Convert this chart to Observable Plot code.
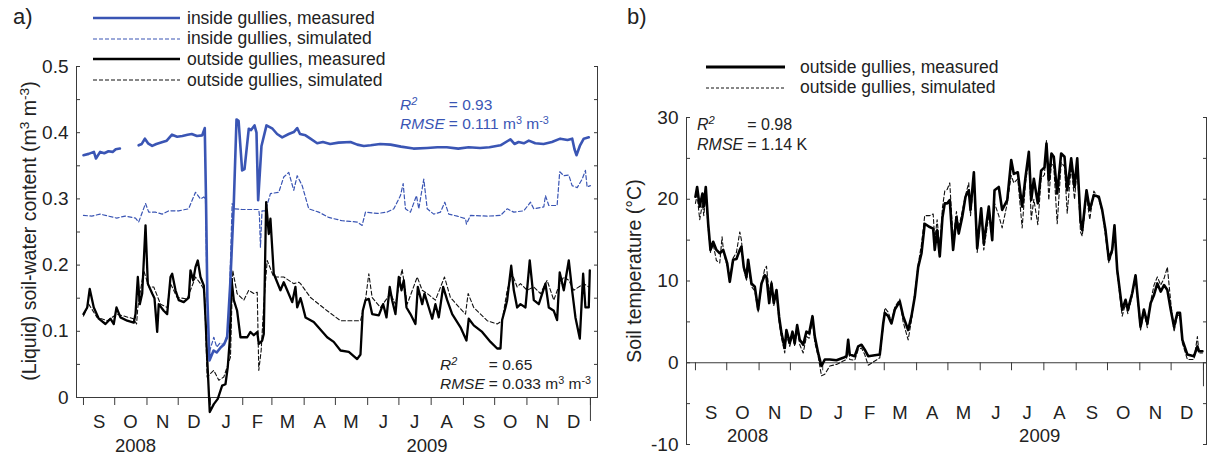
<!DOCTYPE html>
<html><head><meta charset="utf-8">
<script src="https://cdn.jsdelivr.net/npm/d3@7"></script>
<script src="https://cdn.jsdelivr.net/npm/@observablehq/plot@0.6"></script>
<style>
body{margin:0;background:#fff;font-family:"Liberation Sans",Arial,sans-serif;color:#222}
#root{position:relative;width:1208px;height:456px;overflow:hidden;background:#fff}
.panel{position:absolute;top:0}
.ov{position:absolute;white-space:nowrap}
.plabel{font-size:22px}
.ytitle{font-size:19.5px;transform:translate(-50%,-50%) rotate(-90deg)}
.legend{font-size:17.5px}
.legend .row{display:flex;align-items:center;height:20.6px}
.legend svg{display:block}
.stat{display:grid;grid-template-columns:auto auto;column-gap:4px}
.stat i{font-style:italic}
sup{font-size:0.7em;vertical-align:0.5em;line-height:0}
</style></head>
<body><div id="root">
<div class="panel" id="pa" style="left:0"></div>
<div class="panel" id="pb" style="left:604px"></div>
</div>
<script>
// ---------------- data (day offset from 2008-09-01, value) ----------------
const insideMeasured = [[0,0.366],[5,0.368],[10,0.371],[12,0.361],[16,0.371],[20,0.369],[24,0.372],[28,0.371],[31,0.375],[35,0.376],[36,null],
[53,0.381],[56,0.383],[59,0.391],[62,0.384],[66,0.380],[70,0.383],[76,0.386],[80,0.388],[85,0.397],[90,0.394],[95,0.395],[100,0.397],[104,0.398],[109,0.395],[114,0.396],[116.5,0.407],[117.7,0.30],[119,0.15],[121,0.056],[125,0.071],[128,0.068],[132,0.076],[135,0.080],[138,0.091],[141,0.172],[144.4,0.293],[147,0.420],[149,0.418],[152.4,0.343],[154.7,0.345],[158.8,0.406],[161,0.404],[164.3,0.411],[166.2,0.40],[167.8,0.298],[171,0.38],[175.8,0.411],[181.6,0.406],[186,0.398],[190.9,0.393],[197.2,0.398],[202,0.401],[205.3,0.407],[208,0.398],[213.3,0.396],[218,0.391],[224.5,0.384],[230,0.386],[237,0.383],[245,0.385],[256.5,0.386],[263,0.382],[269.3,0.380],[276,0.381],[285,0.383],[295,0.382],[305,0.379],[317,0.376],[330,0.377],[340,0.378],[349,0.378],[360,0.376],[370,0.378],[381,0.377],[390,0.378],[400.6,0.381],[410.2,0.390],[414,0.383],[418,0.386],[423,0.384],[427.8,0.388],[434,0.384],[442,0.383],[450,0.386],[458,0.391],[465,0.389],[469.5,0.391],[471.7,0.375],[473.6,0.366],[476.8,0.38],[480.6,0.391],[485.4,0.393]];

const insideSimulated = [[0,0.275],[8,0.274],[16,0.277],[24,0.274],[32,0.271],[40,0.274],[50,0.271],[53,0.265],[59.6,0.293],[62.7,0.280],[69,0.280],[75.6,0.277],[82,0.282],[91.5,0.282],[101,0.285],[107.6,0.310],[112.4,0.300],[115.6,0.303],[117.2,0.30],[118.8,0.15],[120.4,0.066],[125.2,0.091],[128,0.076],[131,0.082],[134.8,0.08],[139.3,0.101],[142.8,0.293],[145.3,0.285],[152,0.284],[160,0.284],[168.4,0.284],[169,0.275],[170,0.227],[171.5,0.282],[174.8,0.282],[179.6,0.308],[187.6,0.310],[192.4,0.333],[197.2,0.340],[202,0.313],[205.3,0.335],[210.1,0.320],[216.4,0.285],[226,0.280],[235.6,0.272],[248.5,0.267],[256,0.266],[262.9,0.265],[267.7,0.260],[270.9,0.280],[282.1,0.278],[291.7,0.280],[298.1,0.285],[304.5,0.305],[307.1,0.323],[309.3,0.285],[314.1,0.280],[319.9,0.305],[322.1,0.285],[326.9,0.330],[330.2,0.285],[336.5,0.277],[342.9,0.280],[347.1,0.295],[350.9,0.277],[359,0.274],[367,0.270],[367.9,0.262],[371.8,0.275],[387.8,0.274],[400.6,0.275],[407,0.285],[413.4,0.280],[423,0.282],[429.4,0.295],[432.6,0.285],[442.2,0.288],[443.8,0.305],[447,0.29],[455,0.290],[457.5,0.341],[461.4,0.335],[466.2,0.336],[469.4,0.320],[474.3,0.317],[479.1,0.33],[482.2,0.343],[483.8,0.318],[487,0.320]];

const outsideMeasured = [[0,0.126],[3.6,0.136],[6,0.164],[9.9,0.136],[14.7,0.119],[21.1,0.111],[25.9,0.119],[29.1,0.111],[31.7,0.136],[35.5,0.121],[42,0.116],[48.3,0.113],[50,0.126],[52.2,0.182],[54.1,0.141],[56.4,0.157],[59.6,0.260],[61.8,0.172],[66,0.157],[68.2,0.15],[70.8,0.099],[72.3,0.141],[77.1,0.131],[80.4,0.126],[83.6,0.182],[85.2,0.187],[88.4,0.162],[91.5,0.147],[96.3,0.144],[101.2,0.151],[102.8,0.192],[105.4,0.177],[107.6,0.197],[109.8,0.207],[112.4,0.182],[115.6,0.169],[117.2,0.121],[118.8,0.061],[121.3,-0.022],[125.2,-0.010],[129,-0.002],[133.2,0.018],[136.4,0.02],[138.6,0.046],[140.5,0.086],[142.2,0.179],[144.4,0.147],[147.6,0.131],[150.8,0.091],[157.3,0.091],[160.4,0.099],[163.6,0.094],[166.9,0.099],[168.4,0.081],[171.7,0.086],[173.2,0.096],[175.5,0.295],[178,0.247],[179.6,0.270],[182.8,0.187],[189.2,0.162],[192.4,0.174],[195.7,0.162],[200.5,0.144],[203.6,0.167],[205.3,0.136],[208.5,0.15],[210.1,0.141],[213.3,0.121],[221.2,0.114],[234.1,0.091],[240.4,0.084],[246.9,0.071],[254.9,0.069],[262.9,0.058],[266.1,0.065],[268.3,0.131],[270.9,0.147],[274.1,0.149],[277.3,0.126],[283.7,0.124],[287.9,0.141],[291.1,0.121],[294.2,0.167],[296.5,0.147],[299.7,0.126],[302.9,0.182],[305.5,0.162],[307.7,0.177],[310.3,0.136],[314.1,0.126],[318.9,0.111],[321.2,0.167],[325.4,0.141],[327.6,0.157],[331.7,0.136],[335,0.119],[338.1,0.141],[341.3,0.121],[345.5,0.167],[349.4,0.147],[354.2,0.126],[362.2,0.106],[367.9,0.086],[370.1,0.119],[374.9,0.109],[383,0.099],[391,0.084],[397.4,0.074],[400.6,0.074],[402.2,0.117],[405.4,0.136],[407,0.147],[410.9,0.199],[413.4,0.162],[416.6,0.136],[419.8,0.141],[424.6,0.136],[428.7,0.207],[432.6,0.147],[437.4,0.141],[443.8,0.172],[447,0.136],[451.8,0.131],[455,0.117],[457.5,0.189],[461.4,0.162],[466.2,0.207],[469.4,0.162],[472.6,0.121],[476.8,0.089],[480,0.187],[482.2,0.136],[485.4,0.136],[486.4,0.192]];

const outsideSimulated = [[0,0.123],[5,0.141],[13,0.121],[23,0.116],[32,0.126],[48,0.119],[51,0.111],[52.2,0.136],[57.9,0.192],[62.7,0.167],[67.5,0.167],[74,0.141],[80.4,0.136],[83.6,0.172],[90,0.151],[99.6,0.149],[107.6,0.182],[112.4,0.172],[116.2,0.162],[118.8,0.031],[125.2,0.041],[130,0.026],[134.8,0.031],[141.2,0.061],[143.4,0.192],[147.6,0.157],[154,0.147],[158.8,0.162],[163.6,0.157],[166.9,0.159],[168.4,0.041],[170.7,0.071],[173.2,0.141],[176.5,0.207],[182.8,0.182],[192.4,0.182],[202,0.172],[206.8,0.174],[208.5,0.172],[218.1,0.151],[234.1,0.131],[246.9,0.116],[266.1,0.116],[270.9,0.147],[274.1,0.187],[277.3,0.151],[285.3,0.136],[294.9,0.157],[299.7,0.141],[306.1,0.194],[311,0.141],[320.6,0.182],[325.4,0.162],[330.2,0.157],[338.1,0.147],[346.8,0.182],[352.5,0.151],[362.2,0.134],[367,0.126],[369.5,0.157],[374.9,0.136],[387.8,0.116],[397.4,0.111],[402.2,0.116],[407,0.162],[411.8,0.187],[416.6,0.167],[419.8,0.172],[426.2,0.162],[432.6,0.167],[439,0.157],[445.4,0.177],[451.8,0.147],[457.5,0.172],[461.4,0.182],[466.2,0.177],[471,0.162],[480.6,0.172],[485.4,0.167]];

const tempMeasured = [[0,20.3],[1.6,21.5],[4.1,19.1],[6.7,20.7],[8,19.1],[9.9,21.5],[12.2,17.0],[14.4,13.8],[17,14.8],[20.1,13.8],[23.3,13.4],[26.6,13.8],[30.4,12.2],[32.9,9.9],[36.1,12.6],[39.3,12.7],[42.5,13.8],[44.1,14.2],[46.3,11.7],[48.9,10.5],[50.5,12.6],[53.7,9.7],[56.9,9.3],[60.1,6.5],[63.3,9.7],[66.4,10.7],[68.1,10.5],[70.7,7.3],[72.9,9.7],[75.1,7.3],[77.7,8.9],[80.2,5.6],[82.5,3.6],[85.6,1.8],[87.2,4.0],[90.4,2.4],[93,3.8],[95.2,2.4],[97.5,4.6],[100,2.8],[103.3,2.2],[106.4,3.8],[109,3.6],[112.2,5.7],[114.4,3.2],[117.6,1.2],[120.8,-0.4],[124,0.4],[128.8,0.4],[135.2,0.3],[141.6,0.6],[144.8,0.8],[146.4,2.8],[147.9,1.0],[152.7,0.8],[156,2.0],[159.2,2.2],[162.3,1.6],[165.6,0.8],[176.7,1.0],[180,4.8],[181.5,6.1],[184.8,5.7],[187.9,4.8],[191.1,6.5],[195.9,7.5],[199.1,5.7],[203.9,4.0],[207.1,5.7],[210.3,8.1],[213.5,11.7],[216.7,13.4],[219.8,17.0],[224.6,16.6],[227.9,16.4],[229.4,13.8],[231.7,16.2],[234.2,13.0],[236.8,17.8],[239,19.5],[241.3,19.5],[243.8,19.9],[247,13.8],[250.2,17.8],[252.4,15.8],[255.7,17.8],[258.9,20.3],[262,21.1],[263.7,18.7],[266.9,23.3],[270.1,14.0],[273.9,18.9],[276.4,14.6],[281.2,19.1],[284.5,15.0],[286.7,21.1],[290.8,21.5],[294,18.7],[298.9,19.9],[302.7,24.8],[305.2,23.1],[309,23.3],[313.2,19.1],[316.4,22.7],[319.6,25.8],[321.9,19.9],[324.4,22.5],[328.2,19.5],[331.4,23.5],[334.6,23.9],[336.5,26.8],[338.7,22.3],[341.3,25.6],[343.5,25.2],[346.8,20.7],[350.6,25.6],[353.8,25.2],[356.4,21.1],[360.2,25.0],[363.4,21.5],[366,25.0],[369.1,17.4],[370.8,16.2],[374.9,21.1],[378,18.7],[381.9,20.5],[386.7,20.3],[389.9,18.7],[393.1,16.2],[396.3,12.6],[399.5,13.8],[401.7,16.8],[404.3,11.4],[409.1,6.5],[412.3,7.7],[414.5,6.5],[418.7,8.5],[421.9,10.7],[426.7,4.4],[429.9,6.5],[433.2,4.8],[436.4,7.3],[439.6,8.3],[442.8,9.7],[446,8.7],[449.2,9.5],[452.4,8.9],[455.6,6.5],[458.8,4.4],[462,6.1],[464.5,6.1],[466.8,2.8],[471.6,1.0],[477.9,0.8],[481.2,2.0],[482.7,1.4],[486,1.4]];

const tempSimulated = [[0,19.5],[1.6,20.5],[4.1,17.5],[6.7,19.5],[8,18.0],[9.9,20.5],[12.2,16.5],[14.4,13.5],[17,14.5],[20.1,12.5],[23.3,12.2],[25.5,15.4],[27,13.5],[30.4,11.8],[32.9,10.2],[36.1,12.8],[39.3,13.5],[42.5,16.0],[44.1,15.0],[46.3,11.5],[48.9,10.0],[50.5,12.0],[53.7,9.3],[56.9,8.8],[60.1,6.2],[63.3,9.5],[66.4,11.5],[68.1,11.8],[70.7,8.5],[72.9,10.0],[75.1,7.0],[77.7,8.5],[80.2,5.0],[82.5,3.0],[85.6,1.2],[87.2,3.5],[90.4,2.0],[93,3.4],[95.2,2.0],[97.5,4.2],[100,2.2],[103.3,1.2],[106.4,3.2],[109,3.0],[112.2,5.2],[114.4,2.5],[117.6,0.8],[120.8,-1.6],[124,-1.4],[128.8,-0.4],[135.2,-0.2],[141.6,0.2],[144.8,0.4],[146.4,2.9],[147.9,0.4],[152.7,0.3],[156,1.6],[159.2,1.8],[162.3,1.0],[165.6,-0.3],[176.7,0.6],[180,4.5],[181.5,6.7],[184.8,6.2],[187.9,5.0],[191.1,6.8],[195.9,7.8],[199.1,5.0],[203.9,2.8],[207.1,5.2],[210.3,8.5],[213.5,12.0],[216.7,14.5],[219.8,18.0],[224.6,18.0],[227.9,18.2],[229.4,15.0],[231.7,17.5],[234.2,14.0],[236.8,19.0],[239,21.0],[241.3,21.2],[243.8,22.0],[247,15.0],[250.2,18.5],[252.4,16.5],[255.7,18.5],[258.9,20.5],[262,22.0],[263.7,18.0],[266.9,22.5],[270.1,13.5],[273.9,18.5],[276.4,13.8],[281.2,18.0],[284.5,16.5],[286.7,19.5],[290.8,18.0],[294,16.5],[298.9,19.5],[302.7,22.9],[305.2,22.0],[309,22.5],[313.2,16.5],[316.4,22.0],[319.6,25.0],[321.9,17.5],[324.4,20.0],[328.2,16.9],[331.4,22.5],[334.6,23.0],[336.5,27.2],[338.7,19.9],[341.3,24.5],[343.5,24.0],[346.8,17.0],[350.6,24.5],[353.8,24.0],[356.4,18.3],[360.2,24.0],[363.4,20.0],[366,24.0],[369.1,16.0],[370.8,15.5],[374.9,20.5],[378,17.5],[381.9,21.0],[386.7,20.0],[389.9,18.5],[393.1,15.5],[396.3,12.2],[399.5,13.5],[401.7,16.2],[404.3,11.0],[409.1,5.7],[412.3,7.2],[414.5,6.0],[418.7,8.2],[421.9,10.4],[426.7,4.0],[429.9,6.2],[433.2,4.3],[436.4,7.5],[439.6,9.5],[442.8,10.5],[446,9.5],[449.2,10.3],[452.4,11.7],[455.6,7.5],[458.8,3.8],[462,5.8],[464.5,5.8],[466.8,2.4],[471.6,0.4],[477.9,0.4],[481.2,3.2],[482.7,1.2],[486,1.2]];

// ticks and labels
const monthStarts = ["2008-09-01","2008-10-01","2008-11-01","2008-12-01","2009-01-01","2009-02-01","2009-03-01","2009-04-01","2009-05-01","2009-06-01","2009-07-01","2009-08-01","2009-09-01","2009-10-01","2009-11-01","2009-12-01","2010-01-01"];
const monthLabelDates = ["2008-09-16","2008-10-16","2008-11-16","2008-12-16","2009-01-16","2009-02-15","2009-03-16","2009-04-16","2009-05-16","2009-06-16","2009-07-16","2009-08-16","2009-09-16","2009-10-16","2009-11-16","2009-12-16"];
const monthLabels = ["S","O","N","D","J","F","M","A","M","J","J","A","S","O","N","D"];
const yearLabelDates = ["2008-10-21","2009-07-28"];
const yearLabels = ["2008","2009"];
const yearEnd = ["2010-01-01"];
const yTicksA = [0,0.1,0.2,0.3,0.4,0.5];
const yTickLabelsA = ["0","0.1","0.2","0.3","0.4","0.5"];
const yMinorA = [0,0.05,0.1,0.15,0.2,0.25,0.3,0.35,0.4,0.45,0.5];
const yTicksB = [-10,0,10,20,30];
const yTickLabelsB = ["-10","0","10","20","30"];
const yMinorB = [-10,-5,0,5,10,15,20,25,30];
const xDomainA = ["2008-08-25T07:00:00Z","2010-01-07T19:00:00Z"];
const xDomainB = ["2008-08-23T10:00:00Z","2010-01-03T22:00:00Z"];
const yDomainA = [0,0.5];
const yDomainB = [-10,30];

// ---------------- helpers ----------------
const START = Date.UTC(2008, 8, 1);
const toDate = d => new Date(START + d * 864e5);
const rows = pts => pts.map(([d, v]) => ({date: toDate(d), value: v}));
const D = s => new Date(s.length === 10 ? s + "T00:00:00Z" : s);
const lookup = (dates, labels) => { const m = new Map(dates.map((d, i) => [+D(d), labels[i]])); return d => m.get(+d) ?? ""; };
const lookupNum = (vals, labels) => { const m = new Map(vals.map((v, i) => [v, labels[i]])); return v => m.get(v) ?? ""; };

const blue = "#3a55b4";
const axisInk = "#3a3a3a";
const font = '"Liberation Sans", Arial, sans-serif';

function xAxes(dy, monthPad, yearPad, longTick) {
  return [
    Plot.axisX({ticks: monthStarts.map(D), tickSize: 8, tickFormat: () => "", label: null, stroke: axisInk, dy}),
    Plot.axisX({ticks: yearEnd.map(D), tickSize: longTick, tickFormat: () => "", label: null, stroke: axisInk, dy}),
    Plot.axisX({ticks: monthLabelDates.map(D), tickSize: 0, tickPadding: monthPad, tickFormat: lookup(monthLabelDates, monthLabels), label: null, dy, fill: "#222", fontSize: 18.5}),
    Plot.axisX({ticks: yearLabelDates.map(D), tickSize: 0, tickPadding: yearPad, tickFormat: lookup(yearLabelDates, yearLabels), label: null, dy, fill: "#222", fontSize: 18.5})
  ];
}

// ---------------- panel a ----------------
const pa = Plot.plot({
  width: 604, height: 456,
  marginLeft: 76, marginRight: 7, marginTop: 66, marginBottom: 59,
  x: {type: "utc", domain: xDomainA.map(D)},
  y: {domain: yDomainA},
  style: {fontFamily: font, fontSize: "19px", color: "#222", background: "transparent", overflow: "visible"},
  marks: [
    Plot.frame({anchor: "left", stroke: axisInk}),
    Plot.frame({anchor: "right", stroke: axisInk}),
    Plot.frame({anchor: "bottom", stroke: axisInk}),
    Plot.axisY({ticks: yMinorA, tickSize: -4, tickFormat: () => "", label: null, stroke: axisInk}),
    Plot.axisY({anchor: "right", ticks: yMinorA, tickSize: -4, tickFormat: () => "", label: null, stroke: axisInk}),
    Plot.axisY({ticks: yTicksA, tickSize: 0, tickPadding: 8, tickFormat: lookupNum(yTicksA, yTickLabelsA), label: null, fill: "#222", fontSize: 19}),
    ...xAxes(0, 17.5, 41, 24),
    Plot.line(rows(insideSimulated), {x: "date", y: "value", stroke: blue, strokeWidth: 1.2, strokeDasharray: "4,2.5"}),
    Plot.line(rows(outsideSimulated), {x: "date", y: "value", stroke: "#111", strokeWidth: 1.1, strokeDasharray: "4,2.5"}),
    Plot.line(rows(outsideMeasured), {x: "date", y: "value", stroke: "#000", strokeWidth: 2.3, strokeLinejoin: "round"}),
    Plot.line(rows(insideMeasured), {x: "date", y: "value", stroke: blue, strokeWidth: 2.6, strokeLinejoin: "round"})
  ]
});
document.getElementById("pa").append(pa);

// ---------------- panel b ----------------
const hB = 456, mTB = 117, mBB = 12;
const zeroOffset = -(hB - mTB - mBB) * (0 - yDomainB[0]) / (yDomainB[1] - yDomainB[0]);
const pb = Plot.plot({
  width: 604, height: hB,
  marginLeft: 82, marginRight: 2, marginTop: mTB, marginBottom: mBB,
  x: {type: "utc", domain: xDomainB.map(D)},
  y: {domain: yDomainB},
  style: {fontFamily: font, fontSize: "19px", color: "#222", background: "transparent", overflow: "visible"},
  marks: [
    Plot.frame({anchor: "left", stroke: axisInk}),
    Plot.frame({anchor: "right", stroke: axisInk}),
    Plot.ruleY([0], {stroke: axisInk}),
    Plot.axisY({ticks: yMinorB, tickSize: -4, tickFormat: () => "", label: null, stroke: axisInk}),
    Plot.axisY({anchor: "right", ticks: yMinorB, tickSize: -4, tickFormat: () => "", label: null, stroke: axisInk}),
    Plot.axisY({ticks: yTicksB, tickSize: 0, tickPadding: 8, tickFormat: lookupNum(yTicksB, yTickLabelsB), label: null, fill: "#222", fontSize: 19}),
    ...xAxes(zeroOffset, 43, 66.5, 24),
    Plot.line(rows(tempSimulated), {x: "date", y: "value", stroke: "#111", strokeWidth: 1.1, strokeDasharray: "4,2.5"}),
    Plot.line(rows(tempMeasured), {x: "date", y: "value", stroke: "#000", strokeWidth: 2.6, strokeLinejoin: "round"})
  ]
});
document.getElementById("pb").append(pb);

// ---------------- overlays (titles, legends, annotations) ----------------
const root = document.getElementById("root");
function ov(html, css, cls = "ov") { const d = document.createElement("div"); d.className = cls; d.innerHTML = html; Object.assign(d.style, css); root.append(d); return d; }
function swatch(color, width, dash, w) {
  return `<svg width="${w}" height="6"><line x1="0" x2="${w}" y1="3" y2="3" stroke="${color}" stroke-width="${width}" ${dash ? `stroke-dasharray="${dash}"` : ""}/></svg>`;
}
const legendA = [
  ["inside gullies, measured", blue, 2.6, null],
  ["inside gullies, simulated", blue, 1.1, "4,2"],
  ["outside gullies, measured", "#000", 2.4, null],
  ["outside gullies, simulated", "#111", 1.1, "4,2"]
];
const legendB = [
  ["outside gullies, measured", "#000", 2.8, null],
  ["outside gullies, simulated", "#111", 1.1, "3,2"]
];

ov("a)", {left: "13px", top: "4px"}, "ov plabel");
ov("b)", {left: "627px", top: "4px"}, "ov plabel");
ov("(Liquid) soil-water content (m<sup>3</sup> m<sup>-3</sup>)", {left: "29px", top: "231px"}, "ov ytitle");
ov("Soil temperature (°C)", {left: "634px", top: "271px"}, "ov ytitle");

ov(legendA.map(([t, c, w, d]) => `<div class="row">${swatch(c, w, d, 87)}<span style="margin-left:7px">${t}</span></div>`).join(""),
   {left: "93px", top: "8px"}, "ov legend");
ov(legendB.map(([t, c, w, d]) => `<div class="row">${swatch(c, w, d, 79)}<span style="margin-left:15px">${t}</span></div>`).join(""),
   {left: "706px", top: "57px"}, "ov legend");

const statA1 = ["R<sup>2</sup>", "= 0.93", "RMSE", "= 0.111 m<sup>3</sup> m<sup>-3</sup>"];
const statA2 = ["R<sup>2</sup>", "= 0.65", "RMSE", "= 0.033 m<sup>3</sup> m<sup>-3</sup>"];
const statB = ["R<sup>2</sup>", "= 0.98", "RMSE", "= 1.14 K"];
const statHtml = s => `<i>${s[0]}</i><span>${s[1]}</span><i>${s[2]}</i><span>${s[3]}</span>`;
ov(statHtml(statA1), {left: "400px", top: "96px", color: blue, fontSize: "15.5px", lineHeight: "18.5px"}, "ov stat");
ov(statHtml(statA2), {left: "440px", top: "356px", color: "#222", fontSize: "15.5px", lineHeight: "18.5px"}, "ov stat");
ov(statHtml(statB), {left: "697px", top: "115px", color: "#222", fontSize: "16px", lineHeight: "19.5px"}, "ov stat");
</script>
</body></html>
